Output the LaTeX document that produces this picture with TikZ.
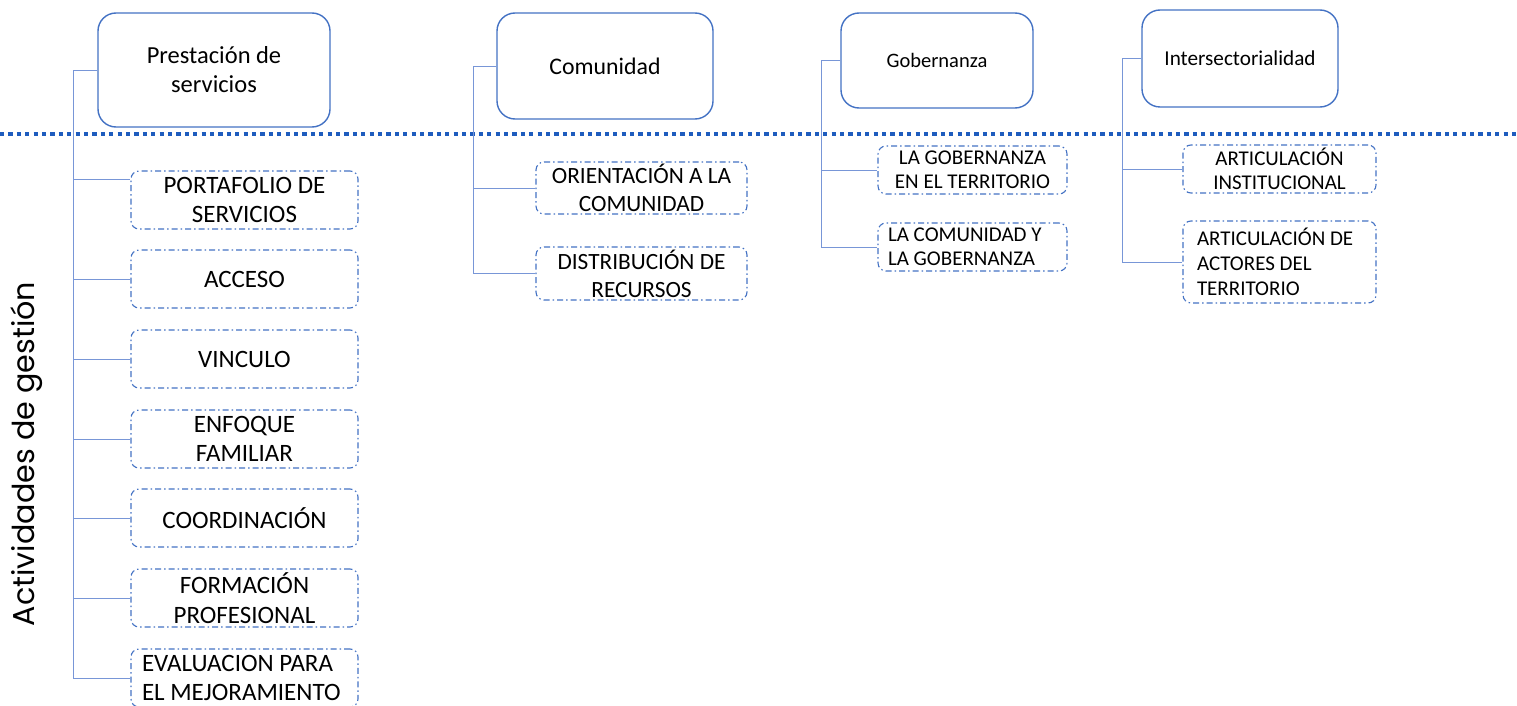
\documentclass[tikz,border=0pt]{standalone}
\usepackage{fontspec}
\setmainfont{Carlito}
\newfontfamily\sidefont{Poppins}
\definecolor{boxblue}{RGB}{68,114,196}
\definecolor{linkblue}{RGB}{120,150,215}
\definecolor{sepblue}{RGB}{30,92,190}
\tikzset{
  topbox/.style={draw=boxblue, line width=1.4pt, rounded corners=18pt, fill=white,
    align=center, inner sep=0pt, font=\fontsize{24.5}{29}\selectfont},
  subbox/.style={draw=boxblue, line width=1.1pt, rounded corners=8pt, fill=white,
    dash pattern=on 6pt off 3pt on 1.5pt off 3pt, align=center, inner sep=0pt,
    font=\fontsize{25}{29.5}\selectfont},
  smallbox/.style={subbox, font=\fontsize{21}{24}\selectfont},
  lefttext/.style={align=flush left, text width=#1},
  conn/.style={draw=linkblue, line width=0.9pt},
}
\begin{document}
\begin{tikzpicture}[x=1pt,y=-1pt]
\useasboundingbox (0,0) rectangle (1517,706);
\fill[white] (0,0) rectangle (1517,706);

% separator between category headers and activities
\draw[sepblue, line width=4pt, dash pattern=on 4.2pt off 4.2pt] (0,134.5) -- (1517,134.5);

% side title
\node[rotate=90, font=\sidefont\fontsize{30.2}{33}\selectfont] (side) at (27,454) {Actividades de gestión};

% ---------- Prestación de servicios ----------
\coordinate (pt) at (73,678);
\node[topbox, minimum width=232pt, minimum height=114pt] (P) at (214,70) {Prestación de\\servicios};
\node[subbox, minimum width=227pt, minimum height=58pt] (P1) at (244.5,200) {PORTAFOLIO DE\\SERVICIOS};
\node[subbox, minimum width=227pt, minimum height=58pt] (P2) at (244.5,279) {ACCESO};
\node[subbox, minimum width=227pt, minimum height=58pt] (P3) at (244.5,359) {VINCULO};
\node[subbox, minimum width=227pt, minimum height=58pt] (P4) at (244.5,439) {ENFOQUE\\FAMILIAR};
\node[subbox, minimum width=227pt, minimum height=58pt] (P5) at (244.5,518) {COORDINACIÓN};
\node[subbox, minimum width=227pt, minimum height=58pt] (P6) at (244.5,598) {FORMACIÓN\\PROFESIONAL};
\node[subbox, minimum width=227pt, minimum height=58pt, lefttext=205pt] (P7) at (244.5,678) {EVALUACION PARA\\EL MEJORAMIENTO};
\draw[conn] (P.west) -| (pt);
\draw[conn] (pt |- P1.west) ++(0,-21) -- ([yshift=21pt]P1.west);
\foreach \n in {P2,P3,P4,P5,P6,P7} \draw[conn] (pt |- \n.west) -- (\n.west);

% ---------- Comunidad ----------
\coordinate (ct) at (473,273);
\node[topbox, minimum width=216pt, minimum height=106pt, font=\fontsize{23.8}{29}\selectfont] (C) at (605,66) {Comunidad};
\node[subbox, minimum width=211pt, minimum height=52pt, font=\fontsize{23.3}{28}\selectfont] (C1) at (641.5,188) {ORIENTACIÓN A LA\\COMUNIDAD};
\node[subbox, minimum width=211pt, minimum height=53pt, font=\fontsize{23.3}{28}\selectfont] (C2) at (641.5,273.5) {DISTRIBUCIÓN DE\\RECURSOS};
\draw[conn] (C.west) -| (ct);
\foreach \n in {C1,C2} \draw[conn] (ct |- \n.west) -- (\n.west);

% ---------- Gobernanza ----------
\coordinate (gt) at (821,247);
\node[topbox, minimum width=192pt, minimum height=95pt, font=\fontsize{20.5}{25}\selectfont] (G) at (937,60.5) {Gobernanza};
\node[smallbox, minimum width=189pt, minimum height=48pt] (G1) at (972.5,170) {LA GOBERNANZA\\EN EL TERRITORIO};
\node[smallbox, minimum width=189pt, minimum height=48pt, lefttext=169pt] (G2) at (972.5,247) {LA COMUNIDAD Y\\LA GOBERNANZA};
\draw[conn] (G.west) -| (gt);
\foreach \n in {G1,G2} \draw[conn] (gt |- \n.west) -- (\n.west);

% ---------- Intersectorialidad ----------
\coordinate (it) at (1122,262);
\node[topbox, minimum width=196pt, minimum height=97pt, font=\fontsize{21.2}{25}\selectfont] (I) at (1240,58.5) {Intersectorialidad};
\node[smallbox, minimum width=193pt, minimum height=82pt, lefttext=165pt, font=\fontsize{21}{25}\selectfont] (I2) at (1279.5,262) {ARTICULACIÓN DE\\ACTORES DEL\\TERRITORIO};
\node[smallbox, minimum width=193pt, minimum height=48pt] (I1) at (1279.5,169) {ARTICULACIÓN\\INSTITUCIONAL};
\draw[conn] (I.west) -| (it);
\foreach \n in {I1,I2} \draw[conn] (it |- \n.west) -- (\n.west);
\end{tikzpicture}
\end{document}
